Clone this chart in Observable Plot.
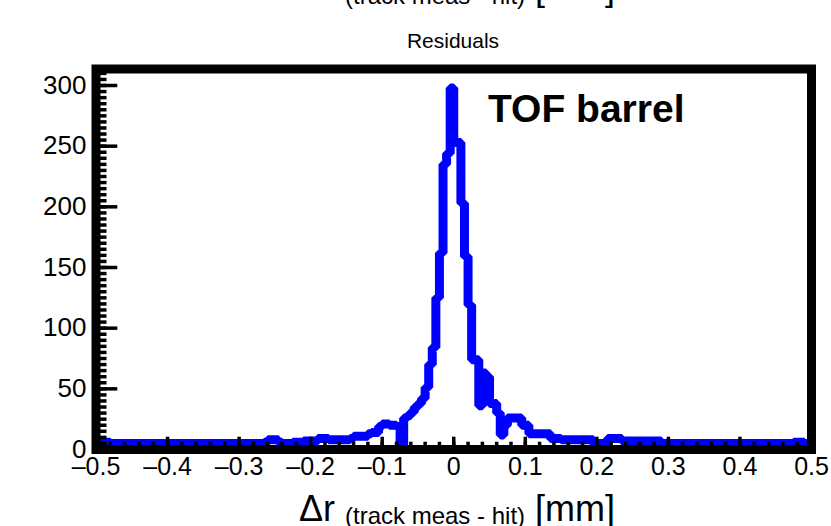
<!DOCTYPE html>
<html><head><meta charset="utf-8">
<script src="https://cdn.jsdelivr.net/npm/d3@7"></script>
<script src="https://cdn.jsdelivr.net/npm/@observablehq/plot@0.6"></script>
<style>html,body{margin:0;padding:0;background:#fff}svg{display:block}</style>
</head><body><div id="chart"></div>
<script>
// ---- data ----
const binLow = -0.5;          // first bin edge [mm]
const binWidth = 0.005;       // bin width [mm]
const counts = [
  6,6,6,6,5,5,5,5,5,5,
  5,5,5,5,5,5,5,5,5,5,
  5,5,5,5,5,5,5,5,5,5,
  5,5,5,5,5,5,5,5,5,5,
  5,5,5,5,5,5,5,6,8,8,
  8,6,5,5,5,6,6,6,7,7,
  7,7,9,9,9,8,8,8,8,8,
  8,9,11,11,11,11,13,14,14,19,
  21,21,20,20,19,3,26,28,31,35,
  38,42,51,70,84,125,162,235,244,298,
  253,253,203,159,119,74,74,36,63,60,
  38,38,30,12,20,26,26,26,26,20,
  20,13,13,13,13,13,13,9,9,9,
  8,8,8,8,8,8,8,8,8,5,
  5,5,5,9,9,9,9,7,7,7,
  7,7,7,7,7,7,7,7,5,5,
  5,5,5,5,5,5,5,5,5,5,
  5,5,5,5,5,5,5,5,5,5,
  5,5,5,5,5,5,5,5,5,5,
  5,5,5,5,5,6,6,6,5,5
];
const xMajorTicks = [-0.5,-0.4,-0.3,-0.2,-0.1,0,0.1,0.2,0.3,0.4,0.5];
const xTickLabels = ["–0.5","–0.4","–0.3","–0.2","–0.1","0","0.1","0.2","0.3","0.4","0.5"];
const xMinorStep = 0.02;
const yMajorTicks = [0,50,100,150,200,250,300];
const yTickLabels = ["0","50","100","150","200","250","300"];
const yMinorStep = 5;
const plotTitle = "Residuals";
const labelText = "TOF barrel";
const xTitleMain = "Δr";
const xTitleSub = "(track meas - hit)";
const xTitleUnit = "[mm]";

// ---- build ----
const FONT = "'Liberation Sans', Arial, Helvetica, sans-serif";
const W = 831, H = 526;
const mL = 95.5, mR = 20, mT = 68.5, mB = 77;
const plotW = W - mL - mR, plotH = H - mT - mB;

const steps = counts.map((c, i) => ({x: binLow + i * binWidth, y: c}));
steps.push({x: binLow + counts.length * binWidth, y: counts[counts.length - 1]});

const xMinor = d3.range(-0.5, 0.5001, xMinorStep).map(v => +v.toFixed(3));
const yMinor = d3.range(0, 311, yMinorStep);

const svg = Plot.plot({
  width: W, height: H,
  marginLeft: mL, marginRight: mR, marginTop: mT, marginBottom: mB,
  style: {fontFamily: FONT, color: "black", background: "white"},
  x: {domain: [-0.5, 0.5]},
  y: {domain: [0, 313.6]},
  marks: [
    Plot.line(steps, {x: "x", y: "y", curve: "step-after", stroke: "#0000ff",
      strokeWidth: 9, strokeLinejoin: "miter", strokeLinecap: "butt"}),
    // ticks drawn inward
    Plot.tickY(yMinor, {y: d => d, stroke: "black", strokeWidth: 3.5, insetRight: plotW - 11}),
    Plot.tickY(yMajorTicks, {y: d => d, stroke: "black", strokeWidth: 3.5, insetRight: plotW - 21.8}),
    Plot.tickX(xMinor, {x: d => d, stroke: "black", strokeWidth: 3.5, insetTop: plotH - 7.3}),
    Plot.tickX(xMajorTicks, {x: d => d, stroke: "black", strokeWidth: 3.5, insetTop: plotH - 12.3}),
    Plot.frame({stroke: "black", strokeWidth: 9}),
    Plot.axisY({ticks: yMajorTicks, tickSize: 0, tickPadding: 9.5, fontSize: 26,
      tickFormat: d => yTickLabels[yMajorTicks.indexOf(d)], label: null}),
    Plot.axisX({ticks: xMajorTicks, tickSize: 0, tickPadding: 8, fontSize: 25,
      tickFormat: d => xTickLabels[xMajorTicks.findIndex(t => Math.abs(t - d) < 1e-9)], label: null})
  ]
});
document.getElementById("chart").appendChild(svg);

const s = d3.select(svg);
s.append("text").attr("x", 453).attr("y", 48).attr("text-anchor", "middle")
  .attr("font-family", FONT).attr("font-size", 21).attr("fill", "black").text(plotTitle);
s.append("text").attr("x", 488).attr("y", 122).attr("text-anchor", "start").attr("font-family", FONT)
  .attr("font-size", 39).attr("font-weight", "bold").attr("fill", "black").text(labelText);

function axisTitle(y, sub) {
  const t = s.append("text").attr("x", 457).attr("y", y).attr("text-anchor", "middle")
    .attr("font-family", FONT).attr("fill", "black");
  t.append("tspan").attr("font-size", 36).text(xTitleMain + " ");
  t.append("tspan").attr("font-size", 24).attr("dy", sub).text(xTitleSub);
  t.append("tspan").attr("font-size", 36).attr("dy", -sub).text(" " + xTitleUnit);
}
axisTitle(521, 3);
axisTitle(0, 4);
</script>
</body></html>
